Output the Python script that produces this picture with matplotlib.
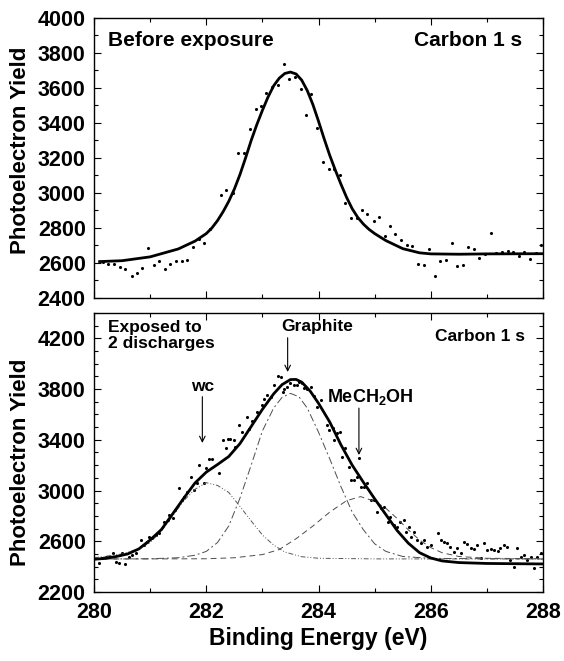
import matplotlib
matplotlib.use("Agg")
import matplotlib.pyplot as plt
from matplotlib.ticker import MultipleLocator

plt.rcParams['font.family'] = ['Liberation Sans', 'DejaVu Sans']
plt.rcParams['font.weight'] = 'bold'
plt.rcParams['mathtext.fontset'] = 'custom'
plt.rcParams['mathtext.rm'] = 'Liberation Sans:bold'
plt.rcParams['mathtext.it'] = 'Liberation Sans:bold'
plt.rcParams['mathtext.bf'] = 'Liberation Sans:bold'

# ---- top panel: before exposure ----
top_x = [280.16, 280.25, 280.36, 280.47, 280.56, 280.67, 280.77, 280.86, 280.96, 281.06,
         281.16, 281.26, 281.36, 281.46, 281.56, 281.66, 281.76, 281.87, 281.96, 282.06,
         282.26, 282.36, 282.47, 282.57, 282.67, 282.78, 282.88, 282.97, 283.07, 283.18,
         283.28, 283.38, 283.48, 283.58, 283.68, 283.77, 283.87, 283.98, 284.08, 284.18,
         284.28, 284.38, 284.48, 284.58, 284.68, 284.78, 284.87, 284.98, 285.08, 285.18,
         285.27, 285.37, 285.47, 285.57, 285.67, 285.78, 285.88, 285.97, 286.07, 286.17,
         286.27, 286.37, 286.47, 286.57, 286.67, 286.77, 286.86, 286.96, 287.07, 287.17,
         287.27, 287.37, 287.47, 287.57, 287.67, 287.77, 287.87, 287.97]
top_y = [2606, 2592, 2592, 2577, 2567, 2526, 2543, 2573, 2687, 2587,
         2610, 2564, 2596, 2610, 2614, 2619, 2691, 2739, 2716, 2796,
         2987, 3019, 3000, 3230, 3230, 3364, 3482, 3495, 3573, 3606,
         3619, 3735, 3653, 3663, 3596, 3444, 3568, 3371, 3177, 3135,
         3139, 3101, 2945, 2857, 2857, 2901, 2882, 2840, 2863, 2754,
         2810, 2768, 2733, 2700, 2695, 2596, 2590, 2682, 2524, 2611,
         2618, 2714, 2583, 2587, 2691, 2678, 2630, 2649, 2771, 2657,
         2663, 2670, 2660, 2640, 2660, 2625, 2655, 2700]

top_fit_x = [280.1, 280.5, 281.0, 281.5, 281.8, 282.0, 282.1, 282.2, 282.3, 282.4,
             282.5, 282.6, 282.7, 282.8, 282.9, 283.0, 283.1, 283.2, 283.3, 283.4,
             283.5, 283.6, 283.7, 283.8, 283.9, 284.0, 284.1, 284.2, 284.3, 284.4,
             284.5, 284.6, 284.7, 284.8, 284.9, 285.0, 285.2, 285.5, 285.8, 286.0,
             286.5, 287.0, 288.0]
top_fit_y = [2608, 2613, 2635, 2680, 2725, 2768, 2800, 2842, 2893, 2952,
             3022, 3105, 3200, 3300, 3390, 3472, 3548, 3612, 3656, 3683,
             3691, 3680, 3645, 3585, 3505, 3410, 3310, 3215, 3130, 3050,
             2975, 2910, 2860, 2822, 2792, 2768, 2728, 2682, 2658, 2652,
             2650, 2652, 2653]

# ---- bottom panel: exposed to 2 discharges ----
bot_x = [280.09, 280.15, 280.21, 280.27, 280.33, 280.39, 280.45, 280.50, 280.56, 280.62,
         280.68, 280.74, 280.83, 280.89, 280.95, 280.98, 281.04, 281.10, 281.16, 281.25,
         281.31, 281.34, 281.40, 281.45, 281.51, 281.57, 281.60, 281.66, 281.72, 281.78,
         281.84, 281.87, 281.96, 281.99, 282.05, 282.11, 282.23, 282.29, 282.35, 282.38,
         282.43, 282.49, 282.52, 282.58, 282.64, 282.73, 282.76, 282.82, 282.91, 283.00,
         283.03, 283.09, 283.15, 283.21, 283.27, 283.33, 283.36, 283.38, 283.44, 283.50,
         283.56, 283.62, 283.65, 283.71, 283.74, 283.80, 283.86, 283.92, 283.98, 284.04,
         284.16, 284.19, 284.25, 284.28, 284.33, 284.39, 284.42, 284.48, 284.54, 284.57,
         284.63, 284.69, 284.72, 284.75, 284.81, 284.87, 284.93, 284.99, 285.05, 285.11,
         285.17, 285.23, 285.28, 285.34, 285.40, 285.46, 285.52, 285.55, 285.61, 285.64,
         285.70, 285.76, 285.82, 285.88, 285.94, 286.00, 286.12, 286.18, 286.23, 286.29,
         286.35, 286.41, 286.47, 286.53, 286.59, 286.65, 286.71, 286.77, 286.83, 286.89,
         286.95, 287.01, 287.07, 287.13, 287.19, 287.24, 287.30, 287.36, 287.42, 287.48,
         287.54, 287.60, 287.66, 287.72, 287.78, 287.84, 287.90, 287.96]
bot_y = [2431, 2465, 2473, 2479, 2505, 2439, 2431, 2505, 2421, 2479,
         2492, 2510, 2610, 2571, 2597, 2631, 2623, 2649, 2668, 2755,
         2768, 2807, 2781, 2846, 3017, 2925, 2952, 2991, 3109, 3004,
         3057, 3201, 3057, 3175, 3246, 3246, 3136, 3398, 3333, 3404,
         3404, 3398, 3346, 3517, 3464, 3582, 3482, 3548, 3622, 3674,
         3719, 3753, 3740, 3832, 3903, 3898, 3779, 3798, 3819, 3845,
         3832, 3832, 3858, 3845, 3806, 3798, 3814, 3745, 3661, 3714,
         3517, 3477, 3490, 3398, 3451, 3464, 3267, 3333, 3188, 3083,
         3083, 3109, 3254, 3030, 3030, 3057, 2925, 2925, 2833, 2860,
         2873, 2755, 2794, 2728, 2715, 2755, 2768, 2676, 2715, 2636,
         2676, 2610, 2584, 2610, 2557, 2571, 2668, 2610, 2597, 2584,
         2557, 2518, 2544, 2505, 2597, 2578, 2544, 2536, 2571, 2465,
         2589, 2531, 2536, 2531, 2526, 2544, 2571, 2557, 2452, 2400,
         2544, 2479, 2492, 2452, 2479, 2387, 2479, 2505]

fit_x = [280.0, 280.2, 280.4, 280.6, 280.8, 281.0, 281.2, 281.4, 281.6, 281.8,
         282.0, 282.2, 282.4, 282.6, 282.8, 283.0, 283.2, 283.35, 283.5, 283.6,
         283.7, 283.85, 284.0, 284.2, 284.4, 284.6, 284.8, 285.0, 285.2, 285.4,
         285.6, 285.8, 286.0, 286.2, 286.5, 287.0, 288.0]
fit_y = [2458, 2465, 2480, 2500, 2540, 2610, 2692, 2815, 2940, 3060,
         3145, 3205, 3268, 3370, 3505, 3640, 3762, 3835, 3875, 3876,
         3855, 3785, 3688, 3540, 3360, 3200, 3065, 2935, 2810, 2685,
         2585, 2510, 2468, 2445, 2432, 2425, 2421]

wc_x = [280.0, 280.5, 280.8, 281.0, 281.2, 281.4, 281.6, 281.8, 282.0, 282.2,
        282.4, 282.6, 282.8, 283.0, 283.2, 283.4, 283.7, 284.0, 285.0, 288.0]
wc_y = [2470, 2500, 2540, 2590, 2680, 2800, 2920, 3010, 3062, 3040,
        2985, 2875, 2760, 2650, 2570, 2515, 2478, 2466, 2461, 2460]

gr_x = [280.0, 281.0, 281.5, 281.8, 282.0, 282.2, 282.4, 282.6, 282.8, 283.0,
        283.2, 283.35, 283.5, 283.65, 283.8, 284.0, 284.2, 284.4, 284.6, 284.8,
        285.0, 285.2, 285.5, 286.0, 288.0]
gr_y = [2460, 2462, 2470, 2490, 2520, 2590, 2720, 2940, 3200, 3470,
        3650, 3735, 3766, 3740, 3650, 3460, 3250, 3030, 2830, 2690,
        2580, 2520, 2480, 2465, 2460]

me_x = [280.0, 282.0, 282.5, 283.0, 283.3, 283.6, 283.9, 284.2, 284.5, 284.75,
        285.0, 285.2, 285.4, 285.6, 285.8, 286.0, 286.2, 286.5, 287.0, 288.0]
me_y = [2460, 2462, 2470, 2495, 2535, 2620, 2720, 2830, 2920, 2952,
        2915, 2860, 2780, 2690, 2610, 2550, 2510, 2480, 2466, 2462]

top_yticks = [2400, 2600, 2800, 3000, 3200, 3400, 3600, 3800, 4000]
bot_yticks = [2200, 2600, 3000, 3400, 3800, 4200]
xticks = [280, 282, 284, 286, 288]

fig = plt.figure(figsize=(5.64, 6.61), dpi=100)
ax1 = fig.add_axes([0.1667, 0.5492, 0.7961, 0.4236])
ax2 = fig.add_axes([0.1667, 0.1044, 0.7961, 0.4221])

ax1.scatter(top_x, top_y, s=5, color='black', linewidths=0)
ax1.plot(top_fit_x, top_fit_y, color='black', lw=2)
ax1.set_xlim(280, 288)
ax1.set_ylim(2400, 4000)
ax1.set_yticks(top_yticks)
ax1.yaxis.set_minor_locator(MultipleLocator(100))
ax1.set_xticks(xticks)
ax1.xaxis.set_minor_locator(MultipleLocator(1))
ax1.set_xticklabels([])
ax1.text(280.25, 3869, 'Before exposure', fontsize=15, fontweight='bold', va='center')
ax1.text(287.63, 3869, 'Carbon 1 s', fontsize=15, fontweight='bold', va='center', ha='right')

ax2.scatter(bot_x, bot_y, s=5, color='black', linewidths=0)
ax2.plot(wc_x, wc_y, color='0.35', lw=0.7, ls=(0, (5, 2, 1, 2, 1, 2)))
ax2.plot(gr_x, gr_y, color='0.3', lw=0.7, ls=(0, (8, 3, 2, 3)))
ax2.plot(me_x, me_y, color='0.3', lw=0.7, ls=(0, (6, 4)))
ax2.plot(fit_x, fit_y, color='black', lw=2)
ax2.set_xlim(280, 288)
ax2.set_ylim(2200, 4400)
ax2.set_yticks(bot_yticks)
ax2.yaxis.set_minor_locator(MultipleLocator(100))
ax2.set_xticks(xticks)
ax2.xaxis.set_minor_locator(MultipleLocator(1))

arrow = dict(arrowstyle='->', lw=0.8, color='black', shrinkA=0, shrinkB=0)
ax2.text(280.25, 4345, 'Exposed to\n2 discharges', fontsize=12.5, fontweight='bold',
         va='top', linespacing=1.05)
ax2.text(287.68, 4211, 'Carbon 1 s', fontsize=12.5, fontweight='bold', va='center', ha='right')
ax2.text(283.97, 4290, 'Graphite', fontsize=12.5, fontweight='bold', ha='center', va='center')
ax2.annotate('', xy=(283.45, 3935), xytext=(283.45, 4205), arrowprops=arrow)
ax2.text(281.93, 3819, 'wc', fontsize=12.5, fontweight='bold', ha='center', va='center')
ax2.annotate('', xy=(281.93, 3375), xytext=(281.93, 3740), arrowprops=arrow)
ax2.text(284.93, 3735, 'MeCH$_2$OH', fontsize=13, fontweight='bold', ha='center', va='center')
ax2.annotate('', xy=(284.72, 3280), xytext=(284.72, 3650), arrowprops=arrow)

for ax in (ax1, ax2):
    ax.tick_params(which='both', direction='in', top=True, right=True, width=0.8)
    ax.tick_params(which='major', length=5)
    ax.tick_params(which='minor', length=3)
    ax.tick_params(axis='y', which='major', pad=6)
    ax.tick_params(axis='x', which='major', pad=7)
    for lab in ax.get_xticklabels() + ax.get_yticklabels():
        lab.set_fontweight('bold')
        lab.set_fontsize(15.5)
    for sp in ax.spines.values():
        sp.set_linewidth(1.0)

fig.text(0.037, 1 - 150 / 661, 'Photoelectron Yield', rotation=90, fontsize=16,
         fontweight='bold', ha='center', va='center')
fig.text(0.037, 1 - 462 / 661, 'Photoelectron Yield', rotation=90, fontsize=16,
         fontweight='bold', ha='center', va='center')
fig.text(0.5647, 1 - 638 / 661, 'Binding Energy (eV)', fontsize=16.5, fontweight='bold',
         ha='center', va='center')

fig.savefig('out.png', dpi=100)
